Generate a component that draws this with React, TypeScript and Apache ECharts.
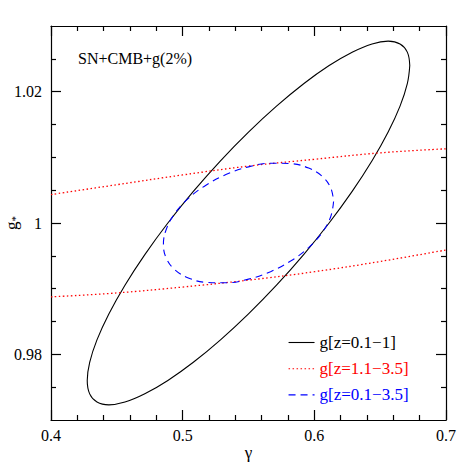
import { useEffect, useRef } from "react";
import * as echarts from "echarts";

const xMajorTicks = [0.4, 0.5, 0.6, 0.7];
const yMajorTicks = [0.98, 1.0, 1.02];
const yMinorTicks = [0.975, 0.985, 0.99, 0.995, 1.005, 1.01, 1.015, 1.025];

const seriesNames = ["g[z=0.1\u22121]", "g[z=1.1\u22123.5]", "g[z=0.1\u22123.5]"];
const seriesColors = ["#000000", "#ff0000", "#0000ff"];
const panelLabel = "SN+CMB+g(2%)";

// g[z=0.1-1] contour (gamma, g*)
const blackContour: [number, number][] = [
  [0.67248, 1.02398], [0.67062, 1.02122], [0.66509, 1.0178], [0.65607, 1.01385],
  [0.64383, 1.00947], [0.62873, 1.00481], [0.61124, 1.0], [0.59189, 0.99519],
  [0.57127, 0.99053], [0.55, 0.98616], [0.52873, 0.98221], [0.50811, 0.97879],
  [0.48876, 0.97602], [0.47127, 0.97399], [0.45617, 0.97273], [0.44393, 0.97231],
  [0.43491, 0.97274], [0.42938, 0.97398], [0.42752, 0.97602], [0.42938, 0.97878],
  [0.43491, 0.9822], [0.44393, 0.98615], [0.45617, 0.99053], [0.47127, 0.99519],
  [0.48876, 1.0], [0.50811, 1.00481], [0.52873, 1.00947], [0.55, 1.01384],
  [0.57127, 1.01779], [0.59189, 1.02121], [0.61124, 1.02398], [0.62873, 1.02601],
  [0.64383, 1.02727], [0.65607, 1.02769], [0.66509, 1.02726], [0.67062, 1.02602],
  [0.67248, 1.02398],
];

// g[z=1.1-3.5] contour: upper and lower branches visible in the window
const redUpper: [number, number][] = [
  [0.4, 1.00433], [0.45, 1.00583], [0.5, 1.00732], [0.55, 1.00867],
  [0.6, 1.0097], [0.65, 1.01068], [0.7, 1.0113],
];
const redLower: [number, number][] = [
  [0.4, 0.98875], [0.45, 0.98935], [0.5, 0.99025], [0.55, 0.9913],
  [0.6, 0.99258], [0.65, 0.99414], [0.7, 0.99589],
];

// g[z=0.1-3.5] contour
const blueContour: [number, number][] = [
  [0.61462, 1.00327], [0.61242, 1.00095], [0.60596, 0.99855], [0.59569, 0.99626],
  [0.58231, 0.99424], [0.56673, 0.99259], [0.55, 0.99145], [0.53327, 0.99089],
  [0.51769, 0.99096], [0.50431, 0.99164], [0.49404, 0.99289], [0.48758, 0.99463],
  [0.48538, 0.99673], [0.48758, 0.99905], [0.49404, 1.00145], [0.50431, 1.00374],
  [0.51769, 1.00576], [0.53327, 1.00741], [0.55, 1.00855], [0.56673, 1.00911],
  [0.58231, 1.00904], [0.59569, 1.00836], [0.60596, 1.00711], [0.61242, 1.00537],
  [0.61462, 1.00327],
];

const FONT = "Liberation Serif";

function fmt(v: number) {
  return String(Number(v.toFixed(3)));
}

export default function App() {
  const ref = useRef<HTMLDivElement>(null);
  useEffect(() => {
    if (!ref.current) return;
    const chart = echarts.init(ref.current, undefined, { renderer: "svg" });
    const gridRect = { left: 51, right: 25, top: 26, bottom: 51, outerBoundsMode: "none", containLabel: false };
    const tickLine = { color: "#000", width: 1.2 };
    const xNative = {
      type: "value" as const,
      min: 0.4,
      max: 0.7,
      interval: 0.1,
      splitLine: { show: false },
      axisLine: { show: true, lineStyle: { color: "#000", width: 1.2 } },
      axisTick: { show: true, inside: true, length: 10, lineStyle: tickLine },
      minorTick: { show: true, splitNumber: 5, length: 5, lineStyle: tickLine },
    };
    const xHidden = { type: "value" as const, min: 0.4, max: 0.7, show: false };
    const yCommon = {
      type: "value" as const,
      min: 0.97,
      max: 1.03,
      splitLine: { show: false },
    };
    chart.setOption({
      animation: false,
      backgroundColor: "#ffffff",
      title: {
        text: panelLabel,
        left: 73,
        top: 45,
        textStyle: { fontFamily: FONT, fontSize: 16, fontWeight: "normal", color: "#000" },
      },
      grid: [gridRect, gridRect, gridRect, gridRect],
      legend: {
        orient: "vertical",
        left: 283,
        top: 329,
        itemWidth: 26,
        itemHeight: 14,
        itemGap: 9.2,
        itemStyle: { opacity: 0 },
        lineStyle: { width: 1.1 },
        data: seriesNames.map((n, i) => ({
          name: n,
          textStyle: { color: seriesColors[i] },
        })),
        textStyle: { fontFamily: FONT, fontSize: 17 },
      },
      xAxis: [
        {
          ...xNative,
          gridIndex: 0,
          position: "bottom",
          name: "\u03b3",
          nameLocation: "middle",
          nameGap: 24,
          nameMoveOverlap: false,
          nameTextStyle: { fontFamily: FONT, fontSize: 17, color: "#000" },
          axisLabel: {
            show: true,
            margin: 7,
            color: "#000",
            fontFamily: FONT,
            fontSize: 16,
            formatter: (v: number) => fmt(v),
            customValues: xMajorTicks,
          },
        },
        { ...xNative, gridIndex: 1, position: "top", axisLabel: { show: false } },
        { ...xHidden, gridIndex: 2 },
        { ...xHidden, gridIndex: 3 },
      ],
      yAxis: [
        {
          ...yCommon,
          gridIndex: 0,
          position: "left",
          name: "{g|g}{s|*}",
          nameLocation: "middle",
          nameGap: 31,
          nameMoveOverlap: false,
          nameTextStyle: {
            fontFamily: FONT,
            color: "#000",
            rich: {
              g: { fontFamily: FONT, fontSize: 17, color: "#000" },
              s: { fontFamily: FONT, fontSize: 11, color: "#000", verticalAlign: "bottom" },
            },
          },
          axisLine: { show: true, lineStyle: { color: "#000", width: 1.2 } },
          axisTick: { show: true, inside: true, length: 10, customValues: yMajorTicks, lineStyle: tickLine },
          axisLabel: {
            show: true,
            margin: 9,
            color: "#000",
            fontFamily: FONT,
            fontSize: 16,
            customValues: yMajorTicks,
            formatter: (v: number) => fmt(v),
          },
        },
        {
          ...yCommon,
          gridIndex: 1,
          position: "right",
          axisLine: { show: true, lineStyle: { color: "#000", width: 1.2 } },
          axisTick: { show: true, inside: true, length: 10, customValues: yMajorTicks, lineStyle: tickLine },
          axisLabel: { show: false },
        },
        {
          ...yCommon,
          gridIndex: 2,
          position: "left",
          axisLine: { show: false },
          axisTick: { show: true, inside: true, length: 5, customValues: yMinorTicks, lineStyle: tickLine },
          axisLabel: { show: false },
        },
        {
          ...yCommon,
          gridIndex: 3,
          position: "right",
          axisLine: { show: false },
          axisTick: { show: true, inside: true, length: 5, customValues: yMinorTicks, lineStyle: tickLine },
          axisLabel: { show: false },
        },
      ],
      series: [
        {
          name: seriesNames[0],
          type: "line",
          xAxisIndex: 0,
          yAxisIndex: 0,
          data: blackContour,
          showSymbol: false,
          symbol: "none",
          smooth: 0.4,
          color: seriesColors[0],
          lineStyle: { color: seriesColors[0], width: 1.1, type: "solid" },
        },
        {
          name: seriesNames[1],
          type: "line",
          xAxisIndex: 0,
          yAxisIndex: 0,
          data: redUpper,
          showSymbol: false,
          symbol: "none",
          smooth: 0.4,
          color: seriesColors[1],
          lineStyle: { color: seriesColors[1], width: 1.3, type: [1.5, 2.5] },
        },
        {
          name: seriesNames[1],
          type: "line",
          xAxisIndex: 0,
          yAxisIndex: 0,
          data: redLower,
          showSymbol: false,
          symbol: "none",
          smooth: 0.4,
          color: seriesColors[1],
          lineStyle: { color: seriesColors[1], width: 1.3, type: [1.5, 2.5] },
        },
        {
          name: seriesNames[2],
          type: "line",
          xAxisIndex: 0,
          yAxisIndex: 0,
          data: blueContour,
          showSymbol: false,
          symbol: "none",
          smooth: 0.4,
          color: seriesColors[2],
          lineStyle: { color: seriesColors[2], width: 1.1, type: [7, 5] },
        },
      ],
    });
    return () => chart.dispose();
  }, []);
  return (
    <div
      ref={ref}
      style={{ position: "fixed", left: 0, top: 0, width: 471, height: 471, background: "#fff" }}
    />
  );
}
